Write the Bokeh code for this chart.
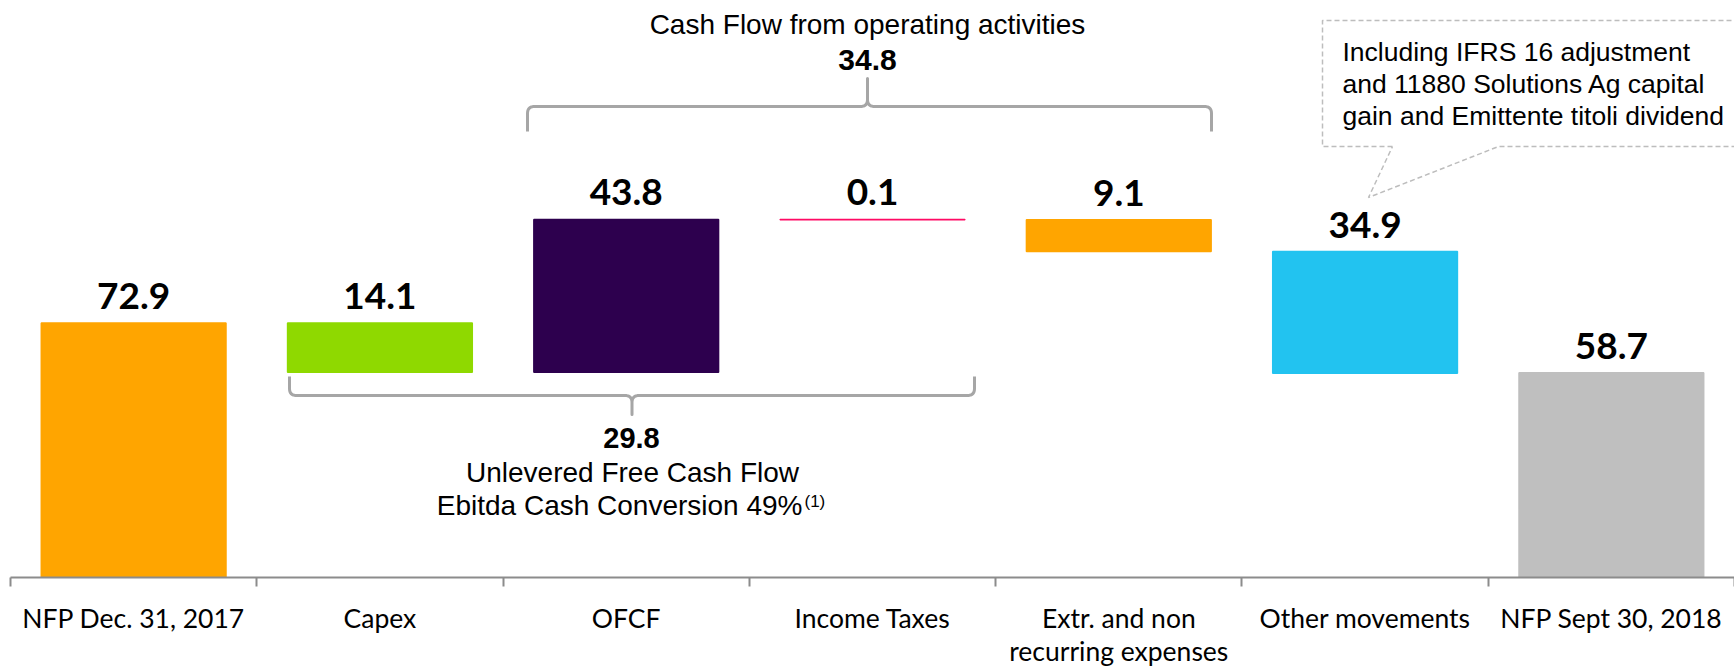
from bokeh.plotting import figure
from bokeh.models import Range1d, FixedTicker
from bokeh.core.properties import value
from bokeh.embed import file_html
from bokeh.resources import INLINE

# ---------------- data ----------------
categories = ["NFP Dec. 31, 2017", "Capex", "OFCF", "Income Taxes",
              "Extr. and non\nrecurring expenses", "Other movements", "NFP Sept 30, 2018"]
values = [72.9, -14.1, 43.8, -0.1, -9.1, -34.9, 58.7]
is_total = [True, False, False, False, False, False, True]
value_labels = ["72.9", "14.1", "43.8", "0.1", "9.1", "34.9", "58.7"]
bar_colors = ["#FFA500", "#8FD900", "#2D004E", "#FF0A64", "#FFA500", "#22C3F0", "#BFBFBF"]

cfo_title = "Cash Flow from operating activities"
cfo_value = "34.8"
ufcf_value = "29.8"
ufcf_line1 = "Unlevered Free Cash Flow"
ufcf_line2 = "Ebitda Cash Conversion 49%"
ufcf_mark = "(1)"
note_lines = ["Including IFRS 16 adjustment",
              "and 11880 Solutions Ag capital",
              "gain and Emittente titoli dividend"]

# ---------------- layout ----------------
FRAME_W, FRAME_H = 1724, 569
LEFT, TOP = 10, 8          # page position of the frame's top-left corner
PPU = 3.49                 # pixels per unit on y
Y_MAX = FRAME_H / PPU
N = len(categories)
CW = FRAME_W / N
BAR_W = 0.75


def dx(px):
    return (px - LEFT) / CW


def dy(py):
    return (TOP + FRAME_H - py) / PPU


# waterfall geometry
bottoms, tops = [], []
run = 0.0
for v, t in zip(values, is_total):
    if t:
        b, e = 0.0, v
        run = v
    else:
        b, e = run, run + v
        run = run + v
    bottoms.append(min(b, e))
    tops.append(max(b, e))
xs = [i + 0.5 for i in range(N)]

p = figure(frame_width=FRAME_W, frame_height=FRAME_H,
           x_range=Range1d(0, N), y_range=Range1d(0, Y_MAX),
           output_backend="svg", toolbar_location=None,
           y_axis_location=None,
           min_border_left=LEFT, min_border_right=0, min_border_top=TOP, min_border_bottom=0,
           outline_line_color=None, background_fill_color="white")
p.xgrid.visible = False
p.ygrid.visible = False

p.vbar(x=xs, bottom=bottoms, top=tops, width=BAR_W,
       fill_color=bar_colors, line_color=bar_colors, line_width=1.5)

p.text(x=xs, y=[t + 27 / PPU for t in tops], text=value_labels,
       text_font=value("Lato"), text_font_style="bold", text_font_size="37px",
       text_align="center", text_baseline="middle", text_color="black")

# axis
ax = p.xaxis[0]
ax.ticker = FixedTicker(ticks=xs, minor_ticks=list(range(N + 1)))
ax.major_label_overrides = {x: c for x, c in zip(xs, categories)}
ax.major_tick_line_color = None
ax.major_tick_out = 9
ax.major_tick_in = 0
ax.minor_tick_out = 9
ax.minor_tick_in = 0
ax.minor_tick_line_color = "#8C8C8C"
ax.minor_tick_line_width = 2
ax.axis_line_color = "#8C8C8C"
ax.axis_line_width = 2
ax.major_label_text_font = "Lato"
ax.major_label_text_font_size = "26.5px"
ax.major_label_text_color = "black"
ax.major_label_text_line_height = 1.04
ax.major_label_standoff = 15


# braces
def qbez(p0, c, p2, n=8):
    pts = []
    for k in range(1, n + 1):
        t = k / n
        x = (1 - t) ** 2 * p0[0] + 2 * (1 - t) * t * c[0] + t ** 2 * p2[0]
        y = (1 - t) ** 2 * p0[1] + 2 * (1 - t) * t * c[1] + t ** 2 * p2[1]
        pts.append((x, y))
    return pts


def brace(x0, x1, xc, y_line, y_hook, y_tip, r=7):
    s = 1 if y_hook > y_line else -1
    t = -s
    pts = [(x0, y_hook), (x0, y_line + s * r)]
    pts += qbez(pts[-1], (x0, y_line), (x0 + r, y_line))
    pts.append((xc - r, y_line))
    pts += qbez(pts[-1], (xc, y_line), (xc, y_line + t * r))
    pts.append((xc, y_tip))
    pts.append((xc, y_line + t * r))
    pts += qbez(pts[-1], (xc, y_line), (xc + r, y_line))
    pts.append((x1 - r, y_line))
    pts += qbez(pts[-1], (x1, y_line), (x1, y_line + s * r))
    pts.append((x1, y_hook))
    return [dx(a) for a, _ in pts], [dy(b) for _, b in pts]


bx, by = brace(527, 1211, 867, 106, 131, 78)
p.line(bx, by, line_color="#A6A6A6", line_width=3, line_join="round")
bx, by = brace(289, 974, 631.5, 395, 376, 414)
p.line(bx, by, line_color="#A6A6A6", line_width=3, line_join="round")

# top group text (anchors at cap-height centres)
p.text(x=[dx(867)], y=[dy(24)], text=[cfo_title], text_font=value("Liberation Sans"),
       text_font_size="28px", text_align="center", text_baseline="middle", text_color="black")
p.text(x=[dx(867)], y=[dy(59)], text=[cfo_value], text_font=value("Liberation Sans"),
       text_font_style="bold", text_font_size="30px", text_align="center",
       text_baseline="middle", text_color="black")

# bottom group text
p.text(x=[dx(631)], y=[dy(437)], text=[ufcf_value], text_font=value("Liberation Sans"),
       text_font_style="bold", text_font_size="29px", text_align="center",
       text_baseline="middle", text_color="black")
p.text(x=[dx(632)], y=[dy(471.5)], text=[ufcf_line1], text_font=value("Liberation Sans"),
       text_font_size="28px", text_align="center", text_baseline="middle", text_color="black")
p.text(x=[dx(802)], y=[dy(505)], text=[ufcf_line2], text_font=value("Liberation Sans"),
       text_font_size="28px", text_align="right", text_baseline="middle", text_color="black")
p.text(x=[dx(804)], y=[dy(501)], text=[ufcf_mark], text_font=value("Liberation Sans"),
       text_font_size="17px", text_align="left", text_baseline="middle", text_color="black")

# callout
cpts = [(1392, 146), (1322, 146), (1322, 20), (1760, 20), (1760, 146),
        (1498, 146), (1368, 197), (1392, 146)]
p.line([dx(a) for a, _ in cpts], [dy(b) for _, b in cpts], line_color="#BDBDBD",
       line_width=1.5, line_dash="5 3")
p.text(x=[dx(1342)] * 3, y=[dy(51.5), dy(83.5), dy(115.5)], text=note_lines,
       text_font=value("Liberation Sans"), text_font_size="26.5px", text_align="left",
       text_baseline="middle", text_color="black")

open("out.html", "w").write(file_html(p, INLINE))
